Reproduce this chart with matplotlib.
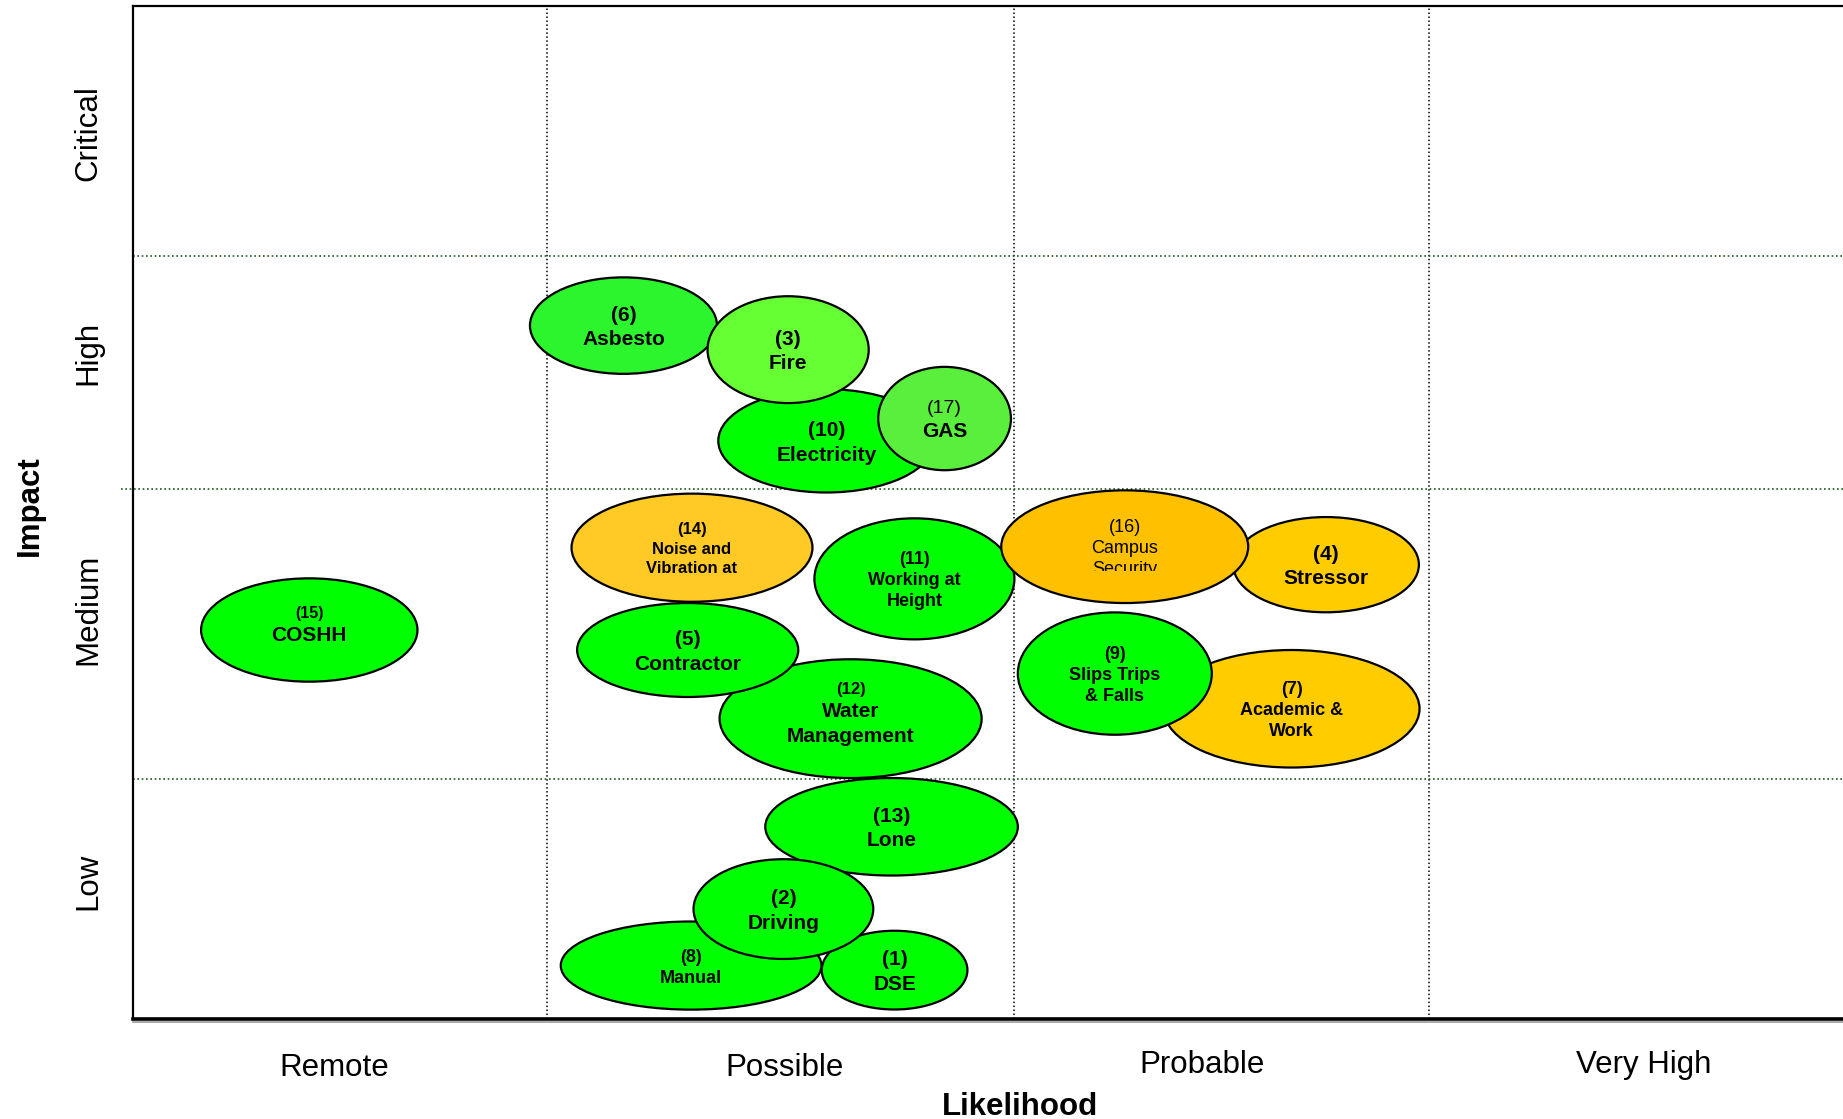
import matplotlib
matplotlib.use("Agg")
import matplotlib.pyplot as plt
from matplotlib.patches import Ellipse, Rectangle

plt.rcParams['font.family'] = ['Liberation Sans', 'DejaVu Sans']

# ---- axis categories (0-4 scales, one unit per band) ----
likelihood_levels = ["Remote", "Possible", "Probable", "Very High"]
impact_levels = ["Low", "Medium", "High", "Critical"]
likelihood_bounds = [0.960, 2.045, 3.008]
impact_bounds = [0.947, 2.093, 3.012]

# ---- risk register ----
risk_ids = [15, 6, 10, 3, 17, 12, 5, 14, 11, 4, 16, 7, 9, 13, 8, 1, 2]
risk_names = ["COSHH", "Asbesto", "Electricity", "Fire", "GAS",
              "Water\nManagement", "Contractor", "Noise and\nVibration at",
              "Working at\nHeight", "Stressor", "Campus\nSecurity",
              "Academic &\nWork", "Slips Trips\n& Falls", "Lone", "Manual",
              "DSE", "Driving"]
likelihood = [0.409, 1.138, 1.609, 1.520, 1.883, 1.665, 1.287, 1.297,
              1.813, 2.768, 2.301, 2.688, 2.278, 1.760, 1.295, 1.767, 1.509]
impact = [1.536, 2.738, 2.283, 2.643, 2.371, 1.186, 1.457, 1.861,
          1.738, 1.794, 1.865, 1.225, 1.364, 0.759, 0.211, 0.193, 0.434]
spread_likelihood = [0.502, 0.434, 0.502, 0.374, 0.308, 0.608, 0.513, 0.559,
                     0.464, 0.431, 0.573, 0.594, 0.450, 0.586, 0.605, 0.338, 0.417]
spread_impact = [0.408, 0.381, 0.408, 0.422, 0.408, 0.469, 0.371, 0.427,
                 0.478, 0.376, 0.445, 0.464, 0.483, 0.385, 0.348, 0.311, 0.394]

# ---- styling ----
fill_colors = {6: "#2DF52D", 3: "#66FF33", 17: "#5AEF3C", 14: "#FFC926",
               16: "#FFC000", 4: "#FFCC00", 7: "#FFCC00"}
default_fill = "#00FF00"
# (number size, number weight, name size, name weight)
text_styles = {15: (11.5, "bold", 15, "bold"), 12: (12, "bold", 15, "bold"),
               17: (14, "normal", 15, "bold"), 14: (12, "bold", 12, "bold"),
               16: (13, "normal", 13, "normal"), 11: (13, "bold", 13, "bold"),
               9: (13, "bold", 13, "bold"), 7: (13, "bold", 13, "bold"),
               8: (13, "bold", 13, "bold")}
default_text = (15, "bold", 15, "bold")
label_lift = {15: 4.0, 12: 4.5}        # points, upward nudge of a label block
clipped_label = {16: 1.768}            # lower edge of the visible text box
LINE_H = 1.17
TICK_FS = 22.5

fig = plt.figure(figsize=(18.43, 11.19), dpi=100)
ax = fig.add_axes([133 / 1843, 1 - 1019 / 1119, 1724 / 1843, 1013 / 1119])
ax.set_xlim(0, 4)
ax.set_ylim(0, 4)
ax.set_xticks([])
ax.set_yticks([])
for side, lw in (("left", 1.6), ("top", 1.6), ("bottom", 2.6), ("right", 1.6)):
    ax.spines[side].set_linewidth(lw)
    ax.spines[side].set_color("black")
# soft shadow under the base line
ax.plot([0, 4], [-0.012, -0.012], color="#9a9a9a", lw=1.2, clip_on=False, zorder=0.5)

# band separators
for xb in likelihood_bounds:
    ax.plot([xb, xb], [0, 4], color="black", lw=1.1, ls=(0, (1, 1.6)), zorder=1)
for i, yb in enumerate(impact_bounds):
    x0 = -0.027 if i == 1 else 0.0
    ax.plot([x0, 4], [yb, yb], color="#1E5A1E", lw=1.2, ls=(0, (1, 1.6)),
            zorder=1, clip_on=False)

# bubbles with stacked labels
for k, rid in enumerate(risk_ids):
    x, y = likelihood[k], impact[k]
    w, h = spread_likelihood[k], spread_impact[k]
    z = 2 + 2 * k
    ax.add_patch(Ellipse((x, y), w, h, facecolor=fill_colors.get(rid, default_fill),
                         edgecolor="black", lw=1.6, zorder=z))
    ns, nw, ms, mw = text_styles.get(rid, default_text)
    lines = [(f"({rid})", ns, nw)] + [(s, ms, mw) for s in risk_names[k].split("\n")]
    total = sum(sz * LINE_H for _, sz, _ in lines)
    top = total / 2 + label_lift.get(rid, 0.0)
    clip = None
    if rid in clipped_label:
        clip = Rectangle((x - w, clipped_label[rid]), 2 * w, 4,
                         transform=ax.transData, visible=False)
        ax.add_patch(clip)
    for s, sz, wt in lines:
        hh = sz * LINE_H
        t = ax.annotate(s, (x, y), xytext=(0, top - hh / 2), textcoords="offset points",
                        ha="center", va="center_baseline", fontsize=sz,
                        fontweight=wt, color="black", zorder=z + 1)
        if clip is not None:
            t.set_clip_path(clip)
        top -= hh

# category labels
likelihood_label_pos = [(0.466, -0.195), (1.511, -0.195), (2.481, -0.181), (3.504, -0.181)]
for lab, (lx, ly) in zip(likelihood_levels, likelihood_label_pos):
    ax.text(lx, ly, lab, ha="center", va="center", fontsize=TICK_FS, clip_on=False)
impact_label_pos = [(-0.104, 0.543), (-0.104, 1.619), (-0.104, 2.631), (-0.104, 3.499)]
for lab, (lx, ly) in zip(impact_levels, impact_label_pos):
    ax.text(lx, ly, lab, ha="center", va="center", rotation=90,
            fontsize=TICK_FS, clip_on=False)

ax.text(2.059, -0.346, "Likelihood", ha="center", va="center",
        fontsize=TICK_FS, fontweight="bold", clip_on=False)
ax.text(-0.240, 2.028, "Impact", ha="center", va="center", rotation=90,
        fontsize=TICK_FS, fontweight="bold", clip_on=False)

fig.savefig("out.png", dpi=100, facecolor="white")
